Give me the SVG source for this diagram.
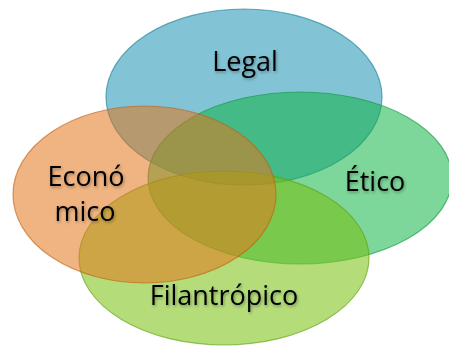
<svg xmlns="http://www.w3.org/2000/svg" width="449" height="347" viewBox="0 0 449 347">
<defs>
<filter id="ts" x="-20%" y="-40%" width="140%" height="180%">
<feDropShadow dx="1" dy="1.5" stdDeviation="1.5" flood-color="#000" flood-opacity="0.35"/>
</filter>
</defs>
<style>
.c{fill-opacity:0.55;stroke-opacity:0.6;stroke-width:1.2}
.t{font-family:"Open Sans","Liberation Sans",sans-serif;font-size:27px;fill:#000;text-anchor:middle;filter:url(#ts)}
</style>
<rect width="449" height="347" fill="#fff"/>
<g id="legal">
<ellipse class="c" cx="244" cy="97" rx="138" ry="88" fill="#1c94b5" stroke="#157a96"/>
</g>
<g id="etico">
<ellipse class="c" cx="300" cy="178" rx="152" ry="86" fill="#13b447" stroke="#0e943a"/>
</g>
<g id="filantropico">
<ellipse class="c" cx="224" cy="258" rx="145" ry="87" fill="#77c10d" stroke="#5f9c0a"/>
</g>
<g id="economico">
<ellipse class="c" cx="144.5" cy="194.5" rx="131.5" ry="88.5" fill="#e4771c" stroke="#c05e10"/>
</g>
<g id="labels">
<text class="t" x="245" y="71">Legal</text>
<text class="t" x="375" y="191">Ético</text>
<text class="t" x="86" y="186">Econó</text>
<text class="t" x="85" y="221">mico</text>
<text class="t" x="224" y="305">Filantrópico</text>
</g>
</svg>
